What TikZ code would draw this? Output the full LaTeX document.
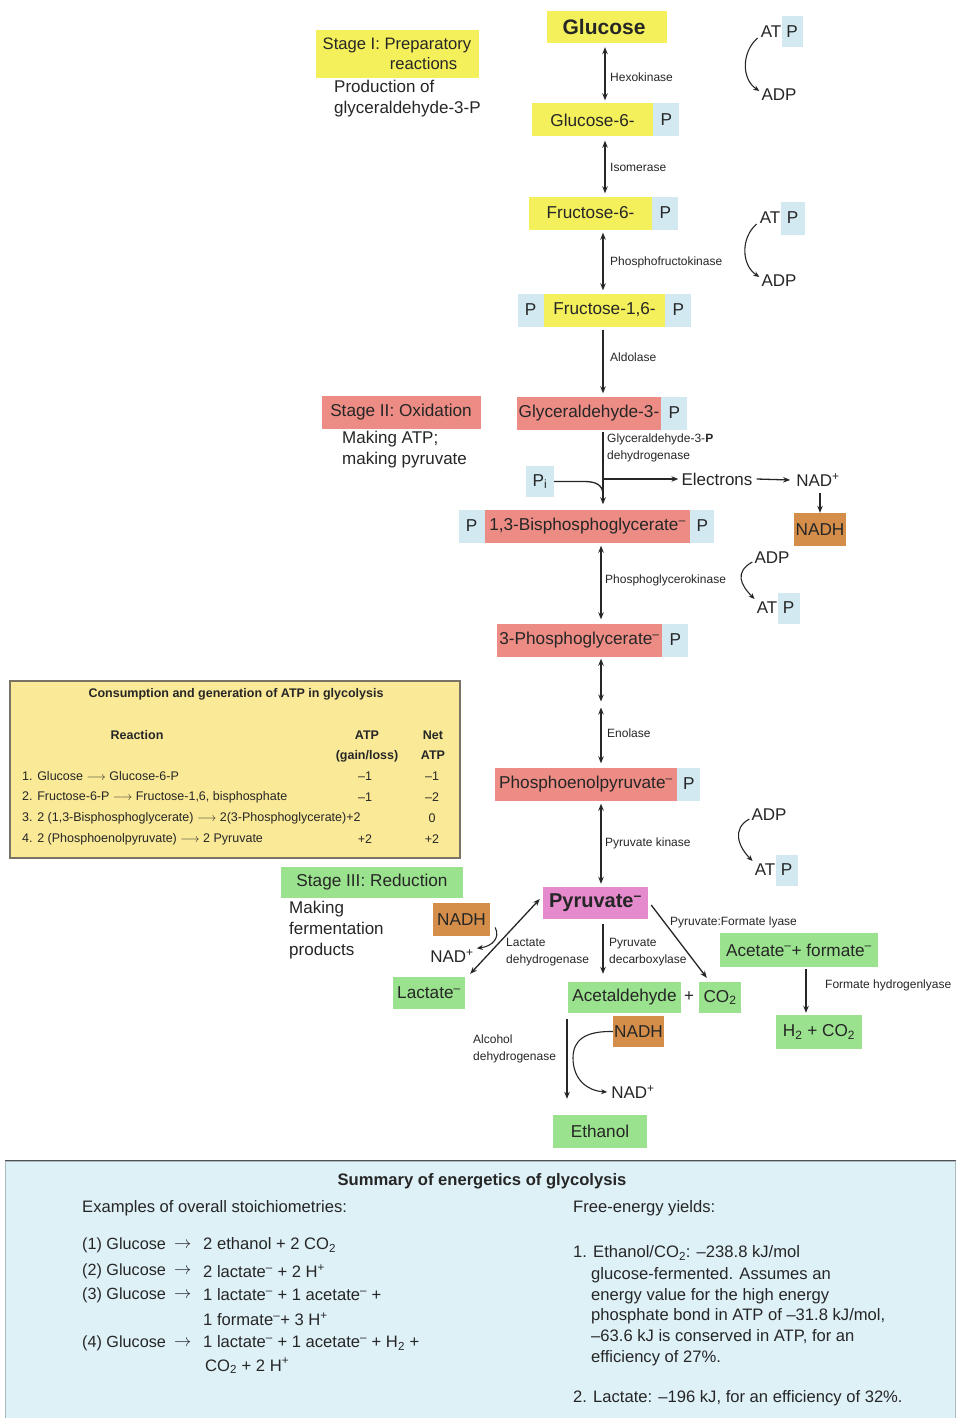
\documentclass[tikz,border=0pt]{standalone}
\usepackage{fontspec}
\setmainfont{Liberation Sans}
\usetikzlibrary{arrows.meta,calc}

\newcommand\fz[2]{\fontsize{#1}{#2}\selectfont}
\newcommand\ion{\textsuperscript{\textendash}}
\newcommand\cat{\textsuperscript{+}}

\definecolor{ink}{RGB}{38,38,38}
\definecolor{cyel}{RGB}{244,240,92}
\definecolor{cblu}{RGB}{210,233,242}
\definecolor{csal}{RGB}{236,140,132}
\definecolor{cbrn}{RGB}{212,142,74}
\definecolor{cpnk}{RGB}{230,138,206}
\definecolor{cgrn}{RGB}{154,226,142}
\definecolor{ctab}{RGB}{250,234,152}
\definecolor{ctabline}{RGB}{120,115,100}
\definecolor{csum}{RGB}{222,241,247}
\definecolor{csumline}{RGB}{170,185,190}

\tikzset{
  nodebox/.style={inner sep=0pt, minimum height=33pt, font=\fz{17.2}{20}, text=ink},
  ybox/.style={nodebox, fill=cyel},
  rbox/.style={nodebox, fill=csal},
  gbox/.style={nodebox, fill=cgrn},
  nbox/.style={nodebox, fill=cbrn},
  pbox/.style={nodebox, fill=cblu, minimum width=26pt},
  lbl/.style={inner sep=0pt, font=\fz{17}{21}, text=ink, align=left},
  enz/.style={inner sep=0pt, font=\fz{12}{17}, text=ink, align=left},
  tip/.style={>={Stealth[length=7pt,width=5.5pt]}},
  rev/.style={tip, <->, line width=1.3pt, draw=ink},
  fwd/.style={tip, ->, line width=1.3pt, draw=ink},
  curv/.style={->, >={Stealth[length=6pt,width=5pt]}, line width=1.1pt, draw=ink},
  tabtxt/.style={inner sep=0pt, font=\fz{12.5}{14}, text=ink},
  tabhd/.style={inner sep=0pt, font=\fz{12.5}{20}\bfseries, text=ink, align=center},
  sumtxt/.style={inner sep=0pt, font=\fz{16.6}{19}, text=ink, anchor=west},
  sumleft/.style={inner sep=0pt, font=\fz{16.2}{19}, text=ink, anchor=west},
}

\begin{document}
\begin{tikzpicture}[x=1pt,y=-1pt]
\useasboundingbox[fill=white] (0,0) rectangle (960,1418);

% spine positions of the main pathway arrows
\coordinate (xa) at (605,0);
\coordinate (xb) at (603,0);
\coordinate (xc) at (601,0);

% ---------------- Stage I ----------------
\node[ybox, minimum width=163pt, minimum height=48pt, align=right, font=\fz{16.6}{20.5}]
  (st1) at (397,54) {Stage I: Preparatory\\reactions\hspace*{14pt}};
\node[lbl, anchor=north west] (st1t) at (334,80) {Production of\\glyceraldehyde-3-P};

\node[ybox, minimum width=120pt, minimum height=32pt, font=\fz{21}{24}\bfseries] (glc) at (607,27) {\hspace*{-6pt}Glucose};
\node[lbl] (at1) at (771,32) {AT};
\node[pbox, minimum width=21pt, minimum height=31pt, anchor=west] (p1) at (at1.east) {P};
\node[lbl] (adp1) at (779,95) {ADP};

\node[ybox, minimum width=121pt] (g6) at (592.5,120) {Glucose-6-};
\node[pbox, anchor=west] (g6p) at (g6.east) {P};

\node[ybox, minimum width=123pt] (f6) at (590.5,213) {Fructose-6-};
\node[pbox, anchor=west] (f6p) at (f6.east) {P};

\node[lbl] (at2) at (770,218) {AT};
\node[pbox, minimum width=24pt, minimum height=33pt, anchor=west] (p2) at (at2.east) {P};
\node[lbl] (adp2) at (779,281) {ADP};

\node[ybox, minimum width=121pt] (f16) at (604.5,310) {Fructose-1,6-};
\node[pbox, anchor=east] (f16a) at (f16.west) {P};
\node[pbox, anchor=west] (f16b) at (f16.east) {P};

% ---------------- Stage II ----------------
\node[rbox, minimum width=159pt] (st2) at (401,412.5) {Stage II: Oxidation};
\node[lbl, anchor=north west] (st2t) at (342,431) {Making ATP;\\making pyruvate};

\node[rbox, minimum width=144pt] (g3p) at (589,413) {Glyceraldehyde-3-};
\node[pbox, anchor=west] (g3pp) at (g3p.east) {P};

\node[pbox, minimum width=28pt, minimum height=31pt] (pi) at (540,481.5) {P\textsubscript{i}};
\node[lbl] (el) at (717,479) {Electrons};
\node[lbl] (nad1) at (818,480) {NAD\cat};
\node[nbox, minimum width=52pt] (nadh1) at (820,529.5) {NADH};

\node[rbox, minimum width=205pt] (bpg) at (587.5,526) {1,3-Bisphosphoglycerate\ion};
\node[pbox, anchor=east] (bpga) at (bpg.west) {P};
\node[pbox, anchor=west, minimum width=24pt] (bpgb) at (bpg.east) {P};

\node[lbl] (adp3) at (772,558) {ADP};
\node[lbl] (at3) at (767,608) {AT};
\node[pbox, minimum width=22pt, minimum height=31pt, anchor=west] (p3) at (at3.east) {P};

\node[rbox, minimum width=165pt] (pg3) at (579.5,640) {3-Phosphoglycerate\ion};
\node[pbox, anchor=west] (pg3p) at (pg3.east) {P};

\coordinate (mid) at (601,704.5);

\node[rbox, minimum width=182pt] (pep) at (586,784) {Phosphoenolpyruvate\ion};
\node[pbox, anchor=west, minimum width=23pt] (pepp) at (pep.east) {P};

\node[lbl] (adp4) at (769,815) {ADP};
\node[lbl] (at4) at (765,870) {AT};
\node[pbox, minimum width=22pt, minimum height=31pt, anchor=west] (p4) at (at4.east) {P};

% ---------------- Stage III ----------------
\node[gbox, minimum width=182pt, minimum height=31pt] (st3) at (372,882.5) {Stage III: Reduction};
\node[lbl, anchor=north west] (st3t) at (289,901) {Making\\fermentation\\products};

\node[nodebox, fill=cpnk, minimum width=105pt, minimum height=32pt, font=\fz{20}{22}\bfseries] (pyr) at (595.5,903) {Pyruvate\ion};

\node[nbox, minimum width=57pt] (nadh2) at (461.5,919.5) {NADH};
\node[lbl] (nad2) at (452,956) {NAD\cat};
\node[gbox, minimum width=72pt, minimum height=32pt] (lac) at (429,993) {Lactate\ion};

\node[gbox, minimum width=113pt, minimum height=31pt] (acet) at (624.5,997.5) {Acetaldehyde};
\node[lbl] (plus) at (689,997) {+};
\node[gbox, minimum width=42pt, minimum height=31pt] (co2) at (720,997.5) {CO\textsubscript{2}};

\node[nbox, minimum width=51pt, minimum height=31pt] (nadh3) at (638.5,1031.5) {NADH};
\node[lbl] (nad3) at (633,1092) {NAD\cat};
\node[gbox, minimum width=94pt] (eth) at (600,1131.5) {Ethanol};

\node[gbox, minimum width=158pt, minimum height=34pt] (af) at (799,950) {Acetate\ion+ formate\ion};
\node[gbox, minimum width=86pt, minimum height=34pt] (h2) at (819,1032) {H\textsubscript{2} + CO\textsubscript{2}};

% ---------------- enzyme labels ----------------
\node[enz, anchor=west] (e1) at (610,77) {Hexokinase};
\node[enz, anchor=west] (e2) at (610,167) {Isomerase};
\node[enz, anchor=west] (e3) at (610,262) {Phosphofructokinase};
\node[enz, anchor=west] (e4) at (610,357) {Aldolase};
\node[enz, anchor=north west] (e5) at (607,434) {Glyceraldehyde-3-\textbf{P}\\dehydrogenase};
\node[enz, anchor=west] (e6) at (605,580) {Phosphoglycerokinase};
\node[enz, anchor=west] (e7) at (607,733) {Enolase};
\node[enz, anchor=west] (e8) at (605,843) {Pyruvate kinase};
\node[enz, anchor=north west] (e9) at (506,938) {Lactate\\dehydrogenase};
\node[enz, anchor=north west] (e10) at (609,938) {Pyruvate\\decarboxylase};
\node[enz, anchor=west] (e11) at (670,922) {Pyruvate:Formate lyase};
\node[enz, anchor=west] (e12) at (825,985) {Formate hydrogenlyase};
\node[enz, anchor=north west] (e13) at (473,1035) {Alcohol\\dehydrogenase};

% ---------------- pathway connectors ----------------
\draw[rev, shorten <=4pt, shorten >=3pt] (glc.south -| xa) -- (g6.north -| xa);
\draw[rev, shorten <=4pt, shorten >=3pt] (g6.south -| xa) -- (f6.north -| xa);
\draw[rev, shorten <=3pt, shorten >=3pt] (f6.south -| xb) -- (f16.north -| xb);
\draw[fwd, shorten <=3pt, shorten >=3pt] (f16.south -| xb) -- (g3p.north -| xb);
\draw[fwd, shorten <=2pt, shorten >=5pt] (g3p.south -| xb) -- (bpg.north -| xb);
\coordinate (jn) at (el.west -| xb);
\draw[line width=1.3pt, draw=ink] (pi.east) -- ++(30,0) .. controls +(12,0) and +(0,-10) .. ($(jn)+(0,16)$);
\draw[fwd] (jn) -- ([xshift=-3pt]el.west);
\draw[fwd] ([xshift=4pt]el.east) -- ([xshift=-6pt]nad1.west);
\draw[fwd] ([shift={(0,6)}]nad1.south -| nadh1.north) -- (nadh1.north);
\draw[rev, shorten <=3pt, shorten >=4pt] (bpg.south -| xc) -- (pg3.north -| xc);
\draw[rev, shorten <=2pt, shorten >=3pt] (pg3.south -| xc) -- (mid);
\draw[rev, shorten <=3pt, shorten >=4pt] (mid) -- (pep.north -| xc);
\draw[rev, shorten <=3pt, shorten >=3pt] (pep.south -| xc) -- (pyr.north -| xc);

% fermentation branches
\draw[rev] ([shift={(5,-3)}]lac.north east) -- ([shift={(-3,-4)}]pyr.west);
\draw[curv] ([shift={(5,8)}]nadh2.east) .. controls +(5,10) and +(16,-2) .. ([shift={(3,-1)}]nad2.north east);
\draw[fwd, shorten <=5pt, shorten >=8pt] (pyr.south -| xb) -- (acet.north -| xb);
\draw[fwd] ([shift={(3,2)}]pyr.east) -- ([shift={(8,-4)}]co2.north west);
\coordinate (xd) at (567,0);
\draw[fwd, shorten <=6pt, shorten >=16pt] (acet.south -| xd) -- (eth.north -| xd);
\coordinate (adhm) at (573,1058);
\draw[curv] (nadh3.west) .. controls (585,1031) and (573,1040) .. (adhm) .. controls (573,1080) and (588,1091) .. ([xshift=-4pt]nad3.west);
\coordinate (xe) at (806,0);
\draw[fwd, shorten <=2pt, shorten >=2pt] (af.south -| xe) -- (h2.north -| xe);

% ATP / ADP couplings
\draw[curv] ([shift={(-3,6)}]at1.west) .. controls +(-16,14) and +(-18,-12) .. ([shift={(-2,2)}]adp1.north west);
\draw[curv] ([shift={(-3,6)}]at2.west) .. controls +(-16,14) and +(-18,-12) .. ([shift={(-2,2)}]adp2.north west);
\draw[curv] ([shift={(-2,4)}]adp3.west) .. controls +(-18,10) and +(-14,-14) .. ([shift={(-2,-3)}]at3.north west);
\draw[curv] ([shift={(-2,4)}]adp4.west) .. controls +(-18,10) and +(-14,-14) .. ([shift={(-2,-3)}]at4.north west);

% ---------------- ATP balance table ----------------
\node[draw=ctabline, fill=ctab, line width=1.2pt, inner sep=0pt, minimum width=450pt, minimum height=177pt] (tab) at (235,769.5) {};
\node[tabhd, font=\fz{12.5}{14}\bfseries] (tabt) at (236,694) {Consumption and generation of ATP in glycolysis};
\node[tabhd] (hr) at (137,735) {Reaction};
\node[tabhd, anchor=north] (ha) at (367,731) {ATP\\(gain/loss)};
\node[tabhd, anchor=north] (hn) at (433,731) {Net\\ATP};
\node[tabtxt, anchor=west] (r1) at (22,776) {1. Glucose $\longrightarrow$ Glucose-6-P};
\node[tabtxt, anchor=west] (r2) at (22,797) {2. Fructose-6-P $\longrightarrow$ Fructose-1,6, bisphosphate};
\node[tabtxt, anchor=west] (r3) at (22,818) {3. 2 (1,3-Bisphosphoglycerate) $\longrightarrow$ 2(3-Phosphoglycerate)+2};
\node[tabtxt, anchor=west] (r4) at (22,839) {4. 2 (Phosphoenolpyruvate) $\longrightarrow$ 2 Pyruvate};
\node[tabtxt] (v1) at (365,776) {--1};
\node[tabtxt] (v2) at (365,797) {--1};
\node[tabtxt] (v4) at (365,839) {+2};
\node[tabtxt] (n1) at (432,776) {--1};
\node[tabtxt] (n2) at (432,797) {--2};
\node[tabtxt] (n3) at (432,818) {0};
\node[tabtxt] (n4) at (432,839) {+2};

% ---------------- energetics summary ----------------
\node[draw=csumline, fill=csum, line width=1pt, inner sep=0pt, minimum width=950pt, minimum height=260pt] (sum) at (480,1291) {};
\draw[line width=1.6pt, draw=ink!80] (sum.north west) -- (sum.north east);
\node[inner sep=0pt, font=\fz{16.6}{18}\bfseries, text=ink] (sumt) at (482,1181) {Summary of energetics of glycolysis};
\node[sumtxt] (sl0) at (82,1208) {Examples of overall stoichiometries:};
\node[sumleft] (sl1) at (82,1245) {(1) Glucose};
\node[sumleft] (sl2) at (82,1271) {(2) Glucose};
\node[sumleft] (sl3) at (82,1295) {(3) Glucose};
\node[sumleft] (sl4) at (82,1343) {(4) Glucose};
\node[sumleft] (sa1) at (174,1245) {$\rightarrow$};
\node[sumleft] (sa2) at (174,1271) {$\rightarrow$};
\node[sumleft] (sa3) at (174,1295) {$\rightarrow$};
\node[sumleft] (sa4) at (174,1343) {$\rightarrow$};
\node[sumtxt] (sp1) at (203,1245) {2 ethanol + 2 CO\textsubscript{2}};
\node[sumtxt] (sp2) at (203,1271) {2 lactate\ion{} + 2 H\cat};
\node[sumtxt] (sp3) at (203,1295) {1 lactate\ion{} + 1 acetate\ion{} +};
\node[sumtxt] (sp3b) at (203,1319) {1 formate\ion+ 3 H\cat};
\node[sumtxt] (sp4) at (203,1343) {1 lactate\ion{} + 1 acetate\ion{} + H\textsubscript{2} +};
\node[sumtxt] (sp4b) at (205,1366) {CO\textsubscript{2} + 2 H\cat};
\node[sumtxt] (sr0) at (573,1208) {Free-energy yields:};
\node[sumtxt] (sr1) at (573,1253) {1. Ethanol/CO\textsubscript{2}: --238.8 kJ/mol};
\node[sumtxt] (sr1b) at (591,1275) {glucose-fermented. Assumes an};
\node[sumtxt] (sr1c) at (591,1296) {energy value for the high energy};
\node[sumtxt] (sr1d) at (591,1316) {phosphate bond in ATP of --31.8 kJ/mol,};
\node[sumtxt] (sr1e) at (591,1337) {--63.6 kJ is conserved in ATP, for an};
\node[sumtxt] (sr1f) at (591,1358) {efficiency of 27\%.};
\node[sumtxt] (sr2) at (573,1398) {2. Lactate: --196 kJ, for an efficiency of 32\%.};

\end{tikzpicture}
\end{document}
